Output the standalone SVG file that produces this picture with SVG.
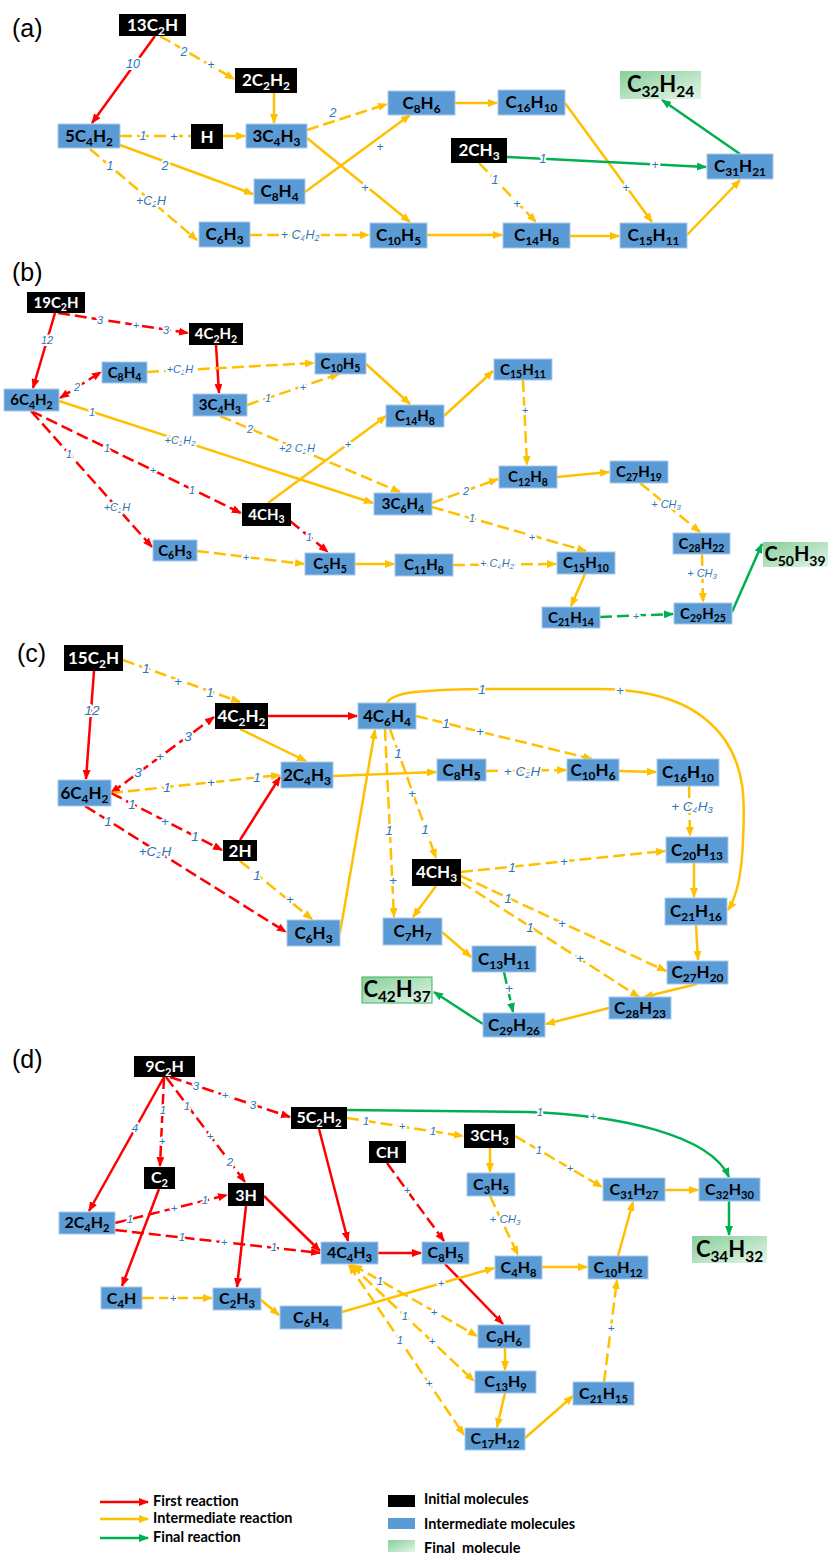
<svg xmlns="http://www.w3.org/2000/svg" width="828" height="1555" viewBox="0 0 828 1555">
<defs>
<linearGradient id="gf" x1="0" y1="0" x2="1" y2="1"><stop offset="0" stop-color="#86cf98"/><stop offset="1" stop-color="#e4f5e8"/></linearGradient>
<marker id="mr" viewBox="0 0 10 8" refX="9" refY="4" markerWidth="10" markerHeight="8" markerUnits="userSpaceOnUse" orient="auto-start-reverse"><path d="M0,0L10,4L0,8z" fill="#ff0000"/></marker>
<marker id="my" viewBox="0 0 10 8" refX="9" refY="4" markerWidth="10" markerHeight="8" markerUnits="userSpaceOnUse" orient="auto-start-reverse"><path d="M0,0L10,4L0,8z" fill="#ffc000"/></marker>
<marker id="mg" viewBox="0 0 10 8" refX="9" refY="4" markerWidth="10" markerHeight="8" markerUnits="userSpaceOnUse" orient="auto-start-reverse"><path d="M0,0L10,4L0,8z" fill="#00b050"/></marker>
<style>
.b{fill:#5b9bd5;stroke:#a9c9ea;stroke-width:1}
.k{fill:#000}
.f{fill:url(#gf)}
.t{font-family:Lato,"Liberation Sans",sans-serif;font-weight:700;fill:#000;text-anchor:middle}
.w{fill:#fff}
.z16{font-size:17px}.z14{font-size:15px}.z15{font-size:16px}.z21{font-size:22px}.z20{font-size:20px}
.s{font-size:70%}
.e{fill:none;stroke-width:2.5}
.r{stroke:#ff0000;marker-end:url(#mr)}
.y{stroke:#ffc000;marker-end:url(#my)}
.g{stroke:#00b050;marker-end:url(#mg)}
.d{stroke-dasharray:12 5}
.l{font-family:"Liberation Sans",sans-serif;font-style:italic;fill:#2e75b6;text-anchor:middle;dominant-baseline:central;stroke:#fff;stroke-width:4;paint-order:stroke;stroke-linejoin:round}
.la{font-size:12.5px}.lb{font-size:11px}.lc{font-size:13.5px}.ld{font-size:11.5px}
.p{font-family:"Liberation Sans",sans-serif;font-size:25px;fill:#000}
.lg{font-family:Lato,"Liberation Sans",sans-serif;font-weight:700;font-size:14.5px;fill:#000}
</style>
</defs>
<rect width="828" height="1555" fill="#fff"/>

<text class="p" x="12" y="37">(a)</text>
<text class="p" x="12" y="281">(b)</text>
<text class="p" x="17" y="662">(c)</text>
<text class="p" x="12" y="1068">(d)</text>

<g id="connectors">
<!-- panel a -->
<path class="e r" d="M155,36L92,123"/>
<path class="e y d" d="M160,36L234,79"/>
<path class="e y" d="M274,93L274,123"/>
<path class="e y d" style="marker-end:none" d="M120,136L191,136"/>
<path class="e y" d="M223,136L245,136"/>
<path class="e y d" d="M307,130L387,104"/>
<path class="e y" d="M305,192L410,115"/>
<path class="e y" d="M307,138L410,222"/>
<path class="e y" d="M120,145L253,194"/>
<path class="e y d" d="M90,149L197,240"/>
<path class="e y d" d="M250,235L369,235"/>
<path class="e y" d="M455,103L497,103"/>
<path class="e y" d="M565,103L652,222"/>
<path class="e g" d="M507,157L706,167"/>
<path class="e y d" d="M479,163L536,222"/>
<path class="e y" d="M427,235L502,235"/>
<path class="e y" d="M570,236L619,236"/>
<path class="e y" d="M687,235L740,180"/>
<path class="e g" d="M740,154L662,100"/>
<!-- panel b -->
<path class="e r" d="M55,313L33,388"/>
<path class="e r d" d="M58,313L188,333"/>
<path class="e r" d="M216,345L219,393"/>
<path class="e r d" marker-start="url(#mr)" d="M60,398L101,372"/>
<path class="e y d" d="M147,372L314,363"/>
<path class="e y d" d="M247,405L339,374"/>
<path class="e y" d="M366,364L410,404"/>
<path class="e y" d="M59,401L373,503"/>
<path class="e y d" d="M220,416L400,492"/>
<path class="e y" d="M268,503L386,416"/>
<path class="e r d" d="M31,411L241,513"/>
<path class="e r d" d="M31,411L152,547"/>
<path class="e r d" d="M290,521L328,552"/>
<path class="e y d" d="M197,551L304,564"/>
<path class="e y" d="M355,564L394,564"/>
<path class="e y d" d="M453,565L556,564"/>
<path class="e y d" d="M432,503L498,479"/>
<path class="e y d" d="M432,507L586,551"/>
<path class="e y" d="M444,416L493,371"/>
<path class="e y d" d="M523,380L527,465"/>
<path class="e y" d="M557,477L609,472"/>
<path class="e y d" d="M640,483L700,532"/>
<path class="e y d" d="M702,554L703,602"/>
<path class="e y" d="M585,574L571,606"/>
<path class="e g d" d="M600,617L673,614"/>
<path class="e g" d="M732,612L762,544"/>
<!-- panel c -->
<path class="e r" d="M94,671L86,779"/>
<path class="e y d" d="M123,660L240,702"/>
<path class="e r d" marker-start="url(#mr)" d="M111,793L214,717"/>
<path class="e r" d="M268,716L357,716"/>
<path class="e y" d="M240,729L306,761"/>
<path class="e y d" d="M111,793L280,775"/>
<path class="e r d" d="M111,793L222,850"/>
<path class="e r d" d="M85,806L286,932"/>
<path class="e r" d="M240,840L280,777"/>
<path class="e y d" d="M240,861L312,919"/>
<path class="e y" d="M340,933L375,730"/>
<path class="e y" d="M333,776L436,772"/>
<path class="e y d" d="M486,771L566,770"/>
<path class="e y" d="M619,771L656,772"/>
<path class="e y d" d="M416,716L592,759"/>
<path class="e y" d="M387,703C392,692 420,690 480,689L600,689C660,690 700,705 725,740C745,770 745,800 743,840C742,870 738,895 728,910"/>
<path class="e y d" d="M385,729L394,917"/>
<path class="e y d" d="M390,729L436,858"/>
<path class="e y" d="M436,886L413,917"/>
<path class="e y d" d="M461,872L665,851"/>
<path class="e y d" d="M461,876L666,971"/>
<path class="e y d" d="M461,882L639,997"/>
<path class="e y d" d="M689,786L690,836"/>
<path class="e y" d="M694,863L694,897"/>
<path class="e y" d="M696,925L698,960"/>
<path class="e y" d="M697,984L644,997"/>
<path class="e y" d="M609,1008L546,1024"/>
<path class="e y" d="M442,932L471,957"/>
<path class="e g d" d="M504,972L513,1012"/>
<path class="e g" d="M483,1024L434,992"/>
<!-- panel d -->
<path class="e r" d="M164,1077L89,1211"/>
<path class="e r d" d="M164,1077L160,1166"/>
<path class="e r d" d="M166,1077L245,1182"/>
<path class="e r d" d="M170,1077L290,1117"/>
<path class="e r" d="M159,1189L122,1286"/>
<path class="e r d" d="M115,1223L227,1195"/>
<path class="e r d" d="M115,1230L320,1253"/>
<path class="e r" d="M264,1196L320,1251"/>
<path class="e r" d="M246,1206L237,1287"/>
<path class="e r" d="M319,1129L348,1241"/>
<path class="e g" d="M347,1110L527,1112C620,1115 710,1135 729,1177"/>
<path class="e y d" d="M347,1118L463,1136"/>
<path class="e r d" d="M387,1163L444,1241"/>
<path class="e y" d="M490,1148L490,1172"/>
<path class="e y d" d="M490,1196L518,1255"/>
<path class="e y d" d="M515,1136L602,1187"/>
<path class="e y" d="M665,1190L698,1190"/>
<path class="e g" d="M729,1201L729,1235"/>
<path class="e r" d="M378,1253L421,1253"/>
<path class="e r" d="M445,1264L503,1324"/>
<path class="e y d" marker-start="url(#my)" d="M353,1265L477,1336"/>
<path class="e y d" marker-start="url(#my)" d="M351,1265L474,1381"/>
<path class="e y d" marker-start="url(#my)" d="M349,1265L464,1435"/>
<path class="e y" d="M342,1312L494,1268"/>
<path class="e y" d="M261,1300L279,1315"/>
<path class="e y d" d="M142,1298L212,1298"/>
<path class="e y" d="M542,1267L587,1267"/>
<path class="e y" d="M618,1256L633,1202"/>
<path class="e y" d="M505,1348L505,1370"/>
<path class="e y" d="M505,1393L497,1427"/>
<path class="e y" d="M525,1438L573,1396"/>
<path class="e y d" d="M604,1382L617,1280"/>
</g>

<g id="edge-labels">
<!-- a -->
<text class="l la" x="133" y="64">10</text>
<text class="l la" x="184" y="52">2</text>
<text class="l la" x="211" y="65">+</text>
<text class="l la" x="143" y="136">1</text>
<text class="l la" x="174" y="137">+</text>
<text class="l la" x="333" y="113">2</text>
<text class="l la" x="380" y="147">+</text>
<text class="l la" x="365" y="188">+</text>
<text class="l la" x="165" y="166">2</text>
<text class="l la" x="110" y="166">1</text>
<text class="l la" x="151" y="201">+C<tspan class="s" dy="3">2</tspan><tspan dy="-3">H</tspan></text>
<text class="l la" x="300" y="235">+ C<tspan class="s" dy="3">4</tspan><tspan dy="-3">H</tspan><tspan class="s" dy="3">2</tspan></text>
<text class="l la" x="626" y="188">+</text>
<text class="l la" x="543" y="159">1</text>
<text class="l la" x="655" y="165">+</text>
<text class="l la" x="495" y="180">1</text>
<text class="l la" x="517" y="204">+</text>
<!-- b -->
<text class="l lb" x="47" y="340">12</text>
<text class="l lb" x="100" y="320">3</text>
<text class="l lb" x="136" y="325">+</text>
<text class="l lb" x="166" y="330">3</text>
<text class="l lb" x="77" y="387">2</text>
<text class="l lb" x="180" y="369">+C<tspan class="s" dy="3">2</tspan><tspan dy="-3">H</tspan></text>
<text class="l lb" x="268" y="398">1</text>
<text class="l lb" x="303" y="387">+</text>
<text class="l lb" x="92" y="412">1</text>
<text class="l lb" x="180" y="440">+C<tspan class="s" dy="3">2</tspan><tspan dy="-3">H</tspan><tspan class="s" dy="3">2</tspan></text>
<text class="l lb" x="250" y="429">2</text>
<text class="l lb" x="297" y="448">+2 C<tspan class="s" dy="3">2</tspan><tspan dy="-3">H</tspan></text>
<text class="l lb" x="348" y="444">+</text>
<text class="l lb" x="107" y="448">1</text>
<text class="l lb" x="153" y="470">+</text>
<text class="l lb" x="192" y="490">1</text>
<text class="l lb" x="69" y="454">1</text>
<text class="l lb" x="117" y="507">+C<tspan class="s" dy="3">2</tspan><tspan dy="-3">H</tspan></text>
<text class="l lb" x="309" y="537">1</text>
<text class="l lb" x="246" y="557">+</text>
<text class="l lb" x="497" y="563">+ C<tspan class="s" dy="3">4</tspan><tspan dy="-3">H</tspan><tspan class="s" dy="3">2</tspan></text>
<text class="l lb" x="466" y="491">2</text>
<text class="l lb" x="472" y="518">1</text>
<text class="l lb" x="532" y="537">+</text>
<text class="l lb" x="525" y="410">+</text>
<text class="l lb" x="666" y="504">+ CH<tspan class="s" dy="3">3</tspan></text>
<text class="l lb" x="702" y="573">+ CH<tspan class="s" dy="3">3</tspan></text>
<text class="l lb" x="636" y="616">+</text>
<!-- c -->
<text class="l lc" x="92" y="710">12</text>
<text class="l lc" x="146" y="668">1</text>
<text class="l lc" x="178" y="681">+</text>
<text class="l lc" x="210" y="692">1</text>
<text class="l lc" x="138" y="772">3</text>
<text class="l lc" x="160" y="756">+</text>
<text class="l lc" x="188" y="736">3</text>
<text class="l lc" x="167" y="787">1</text>
<text class="l lc" x="211" y="782">+</text>
<text class="l lc" x="257" y="777">1</text>
<text class="l lc" x="132" y="804">1</text>
<text class="l lc" x="165" y="821">+</text>
<text class="l lc" x="195" y="836">1</text>
<text class="l lc" x="108" y="821">1</text>
<text class="l lc" x="155" y="851">+C<tspan class="s" dy="3">2</tspan><tspan dy="-3">H</tspan></text>
<text class="l lc" x="257" y="875">1</text>
<text class="l lc" x="290" y="899">+</text>
<text class="l lc" x="522" y="771">+ C<tspan class="s" dy="3">2</tspan><tspan dy="-3">H</tspan></text>
<text class="l lc" x="446" y="723">1</text>
<text class="l lc" x="480" y="731">+</text>
<text class="l lc" x="482" y="689">1</text>
<text class="l lc" x="620" y="690">+</text>
<text class="l lc" x="389" y="830">1</text>
<text class="l lc" x="393" y="880">+</text>
<text class="l lc" x="398" y="753">1</text>
<text class="l lc" x="412" y="793">+</text>
<text class="l lc" x="425" y="829">1</text>
<text class="l lc" x="512" y="867">1</text>
<text class="l lc" x="564" y="861">+</text>
<text class="l lc" x="508" y="898">1</text>
<text class="l lc" x="562" y="923">+</text>
<text class="l lc" x="530" y="927">1</text>
<text class="l lc" x="580" y="958">+</text>
<text class="l lc" x="692" y="806">+ C<tspan class="s" dy="3">4</tspan><tspan dy="-3">H</tspan><tspan class="s" dy="3">3</tspan></text>
<text class="l lc" x="509" y="988">+</text>
<!-- d -->
<text class="l ld" x="135" y="1128">4</text>
<text class="l ld" x="163" y="1110">1</text>
<text class="l ld" x="162" y="1141">+</text>
<text class="l ld" x="187" y="1106">1</text>
<text class="l ld" x="210" y="1136">+</text>
<text class="l ld" x="230" y="1162">2</text>
<text class="l ld" x="196" y="1086">3</text>
<text class="l ld" x="225" y="1095">+</text>
<text class="l ld" x="253" y="1105">3</text>
<text class="l ld" x="130" y="1219">1</text>
<text class="l ld" x="174" y="1208">+</text>
<text class="l ld" x="205" y="1200">1</text>
<text class="l ld" x="182" y="1237">1</text>
<text class="l ld" x="224" y="1242">+</text>
<text class="l ld" x="274" y="1247">1</text>
<text class="l ld" x="540" y="1112">1</text>
<text class="l ld" x="593" y="1116">+</text>
<text class="l ld" x="366" y="1121">1</text>
<text class="l ld" x="402" y="1126">+</text>
<text class="l ld" x="433" y="1131">1</text>
<text class="l ld" x="407" y="1190">+</text>
<text class="l ld" x="505" y="1219">+ CH<tspan class="s" dy="3">3</tspan></text>
<text class="l ld" x="539" y="1150">1</text>
<text class="l ld" x="570" y="1168">+</text>
<text class="l ld" x="380" y="1281">1</text>
<text class="l ld" x="434" y="1312">+</text>
<text class="l ld" x="405" y="1316">1</text>
<text class="l ld" x="432" y="1341">+</text>
<text class="l ld" x="400" y="1340">1</text>
<text class="l ld" x="429" y="1383">+</text>
<text class="l ld" x="441" y="1283">+</text>
<text class="l ld" x="173" y="1298">+</text>
<text class="l ld" x="611" y="1328">+</text>
</g>

<!-- panel a nodes -->
<g id="a-13C2H"><rect class="k" x="119" y="14" width="67" height="22"/><text class="t w z16" x="152.5" y="30.5">13C<tspan class="s" dy="4">2</tspan><tspan dy="-4">H</tspan></text></g>
<g id="a-2C2H2"><rect class="k" x="235" y="68" width="62" height="25"/><text class="t w z16" x="266" y="86">2C<tspan class="s" dy="4">2</tspan><tspan dy="-4">H</tspan><tspan class="s" dy="4">2</tspan></text></g>
<g id="a-5C4H2"><rect class="b" x="58" y="124" width="62" height="24"/><text class="t z16" x="89" y="141.5">5C<tspan class="s" dy="4">4</tspan><tspan dy="-4">H</tspan><tspan class="s" dy="4">2</tspan></text></g>
<g id="a-H"><rect class="k" x="191" y="124" width="32" height="25"/><text class="t w z16" x="207" y="142.5">H</text></g>
<g id="a-3C4H3"><rect class="b" x="246" y="124" width="61" height="24"/><text class="t z16" x="276.5" y="141.5">3C<tspan class="s" dy="4">4</tspan><tspan dy="-4">H</tspan><tspan class="s" dy="4">3</tspan></text></g>
<g id="a-C8H4"><rect class="b" x="254" y="179" width="51" height="25"/><text class="t z16" x="279.5" y="197">C<tspan class="s" dy="4">8</tspan><tspan dy="-4">H</tspan><tspan class="s" dy="4">4</tspan></text></g>
<g id="a-C6H3"><rect class="b" x="199" y="222" width="51" height="25"/><text class="t z16" x="224.5" y="240">C<tspan class="s" dy="4">6</tspan><tspan dy="-4">H</tspan><tspan class="s" dy="4">3</tspan></text></g>
<g id="a-C10H5"><rect class="b" x="370" y="223" width="57" height="25"/><text class="t z16" x="398.5" y="241">C<tspan class="s" dy="4">10</tspan><tspan dy="-4">H</tspan><tspan class="s" dy="4">5</tspan></text></g>
<g id="a-C8H6"><rect class="b" x="388" y="91" width="67" height="24"/><text class="t z16" x="421.5" y="108.5">C<tspan class="s" dy="4">8</tspan><tspan dy="-4">H</tspan><tspan class="s" dy="4">6</tspan></text></g>
<g id="a-C16H10"><rect class="b" x="498" y="90" width="67" height="25"/><text class="t z16" x="531.5" y="108">C<tspan class="s" dy="4">16</tspan><tspan dy="-4">H</tspan><tspan class="s" dy="4">10</tspan></text></g>
<g id="a-C32H24"><rect class="f" x="620" y="71" width="81" height="28"/><text class="t z21" x="660.5" y="91.5">C<tspan class="s" dy="5">32</tspan><tspan dy="-5">H</tspan><tspan class="s" dy="5">24</tspan></text></g>
<g id="a-2CH3"><rect class="k" x="451" y="138" width="56" height="25"/><text class="t w z16" x="479" y="156">2CH<tspan class="s" dy="4">3</tspan></text></g>
<g id="a-C31H21"><rect class="b" x="707" y="154" width="66" height="25"/><text class="t z16" x="740" y="172">C<tspan class="s" dy="4">31</tspan><tspan dy="-4">H</tspan><tspan class="s" dy="4">21</tspan></text></g>
<g id="a-C14H8"><rect class="b" x="503" y="223" width="67" height="25"/><text class="t z16" x="536.5" y="241">C<tspan class="s" dy="4">14</tspan><tspan dy="-4">H</tspan><tspan class="s" dy="4">8</tspan></text></g>
<g id="a-C15H11"><rect class="b" x="620" y="223" width="67" height="25"/><text class="t z16" x="653.5" y="241">C<tspan class="s" dy="4">15</tspan><tspan dy="-4">H</tspan><tspan class="s" dy="4">11</tspan></text></g>

<!-- panel b nodes -->
<g id="b-19C2H"><rect class="k" x="27" y="292" width="58" height="21"/><text class="t w z14" x="56" y="307.5">19C<tspan class="s" dy="3.5">2</tspan><tspan dy="-3.5">H</tspan></text></g>
<g id="b-4C2H2"><rect class="k" x="189" y="323" width="54" height="22"/><text class="t w z14" x="216" y="339">4C<tspan class="s" dy="3.5">2</tspan><tspan dy="-3.5">H</tspan><tspan class="s" dy="3.5">2</tspan></text></g>
<g id="b-C8H4"><rect class="b" x="102" y="362" width="45" height="21"/><text class="t z14" x="124.5" y="377.5">C<tspan class="s" dy="3.5">8</tspan><tspan dy="-3.5">H</tspan><tspan class="s" dy="3.5">4</tspan></text></g>
<g id="b-C10H5"><rect class="b" x="315" y="353" width="51" height="21"/><text class="t z14" x="340.5" y="368.5">C<tspan class="s" dy="3.5">10</tspan><tspan dy="-3.5">H</tspan><tspan class="s" dy="3.5">5</tspan></text></g>
<g id="b-6C4H2"><rect class="b" x="4" y="389" width="55" height="22"/><text class="t z14" x="31.5" y="405">6C<tspan class="s" dy="3.5">4</tspan><tspan dy="-3.5">H</tspan><tspan class="s" dy="3.5">2</tspan></text></g>
<g id="b-3C4H3"><rect class="b" x="193" y="394" width="54" height="22"/><text class="t z14" x="220" y="410">3C<tspan class="s" dy="3.5">4</tspan><tspan dy="-3.5">H</tspan><tspan class="s" dy="3.5">3</tspan></text></g>
<g id="b-C14H8"><rect class="b" x="386" y="405" width="58" height="22"/><text class="t z14" x="415" y="421">C<tspan class="s" dy="3.5">14</tspan><tspan dy="-3.5">H</tspan><tspan class="s" dy="3.5">8</tspan></text></g>
<g id="b-3C6H4"><rect class="b" x="374" y="493" width="58" height="22"/><text class="t z14" x="403" y="509">3C<tspan class="s" dy="3.5">6</tspan><tspan dy="-3.5">H</tspan><tspan class="s" dy="3.5">4</tspan></text></g>
<g id="b-4CH3"><rect class="k" x="242" y="503" width="49" height="23"/><text class="t w z14" x="266.5" y="519.5">4CH<tspan class="s" dy="3.5">3</tspan></text></g>
<g id="b-C6H3"><rect class="b" x="153" y="540" width="44" height="21"/><text class="t z14" x="175" y="555.5">C<tspan class="s" dy="3.5">6</tspan><tspan dy="-3.5">H</tspan><tspan class="s" dy="3.5">3</tspan></text></g>
<g id="b-C5H5"><rect class="b" x="305" y="553" width="50" height="22"/><text class="t z14" x="330" y="569">C<tspan class="s" dy="3.5">5</tspan><tspan dy="-3.5">H</tspan><tspan class="s" dy="3.5">5</tspan></text></g>
<g id="b-C11H8"><rect class="b" x="395" y="554" width="58" height="22"/><text class="t z14" x="424" y="570">C<tspan class="s" dy="3.5">11</tspan><tspan dy="-3.5">H</tspan><tspan class="s" dy="3.5">8</tspan></text></g>
<g id="b-C15H11"><rect class="b" x="494" y="359" width="58" height="21"/><text class="t z14" x="523" y="374.5">C<tspan class="s" dy="3.5">15</tspan><tspan dy="-3.5">H</tspan><tspan class="s" dy="3.5">11</tspan></text></g>
<g id="b-C12H8"><rect class="b" x="499" y="466" width="58" height="22"/><text class="t z14" x="528" y="482">C<tspan class="s" dy="3.5">12</tspan><tspan dy="-3.5">H</tspan><tspan class="s" dy="3.5">8</tspan></text></g>
<g id="b-C27H19"><rect class="b" x="610" y="461" width="58" height="22"/><text class="t z14" x="639" y="477">C<tspan class="s" dy="3.5">27</tspan><tspan dy="-3.5">H</tspan><tspan class="s" dy="3.5">19</tspan></text></g>
<g id="b-C28H22"><rect class="b" x="673" y="533" width="57" height="21"/><text class="t z14" x="701.5" y="548.5">C<tspan class="s" dy="3.5">28</tspan><tspan dy="-3.5">H</tspan><tspan class="s" dy="3.5">22</tspan></text></g>
<g id="b-C15H10"><rect class="b" x="557" y="552" width="58" height="22"/><text class="t z14" x="586" y="568">C<tspan class="s" dy="3.5">15</tspan><tspan dy="-3.5">H</tspan><tspan class="s" dy="3.5">10</tspan></text></g>
<g id="b-C50H39"><rect class="f" x="763" y="542" width="65" height="25"/><text class="t z20" x="795" y="561">C<tspan class="s" dy="5">50</tspan><tspan dy="-5">H</tspan><tspan class="s" dy="5">39</tspan></text></g>
<g id="b-C21H14"><rect class="b" x="542" y="607" width="58" height="21"/><text class="t z14" x="571" y="622.5">C<tspan class="s" dy="3.5">21</tspan><tspan dy="-3.5">H</tspan><tspan class="s" dy="3.5">14</tspan></text></g>
<g id="b-C29H25"><rect class="b" x="674" y="603" width="58" height="21"/><text class="t z14" x="703" y="618.5">C<tspan class="s" dy="3.5">29</tspan><tspan dy="-3.5">H</tspan><tspan class="s" dy="3.5">25</tspan></text></g>

<!-- panel c nodes -->
<g id="c-15C2H"><rect class="k" x="64" y="645" width="59" height="26"/><text class="t w z16" x="93.5" y="663.5">15C<tspan class="s" dy="4">2</tspan><tspan dy="-4">H</tspan></text></g>
<g id="c-4C2H2"><rect class="k" x="215" y="703" width="53" height="26"/><text class="t w z16" x="241.5" y="721.5">4C<tspan class="s" dy="4">2</tspan><tspan dy="-4">H</tspan><tspan class="s" dy="4">2</tspan></text></g>
<g id="c-4C6H4"><rect class="b" x="358" y="703" width="58" height="26"/><text class="t z16" x="387" y="721.5">4C<tspan class="s" dy="4">6</tspan><tspan dy="-4">H</tspan><tspan class="s" dy="4">4</tspan></text></g>
<g id="c-2C4H3"><rect class="b" x="281" y="762" width="52" height="26"/><text class="t z16" x="307" y="780.5">2C<tspan class="s" dy="4">4</tspan><tspan dy="-4">H</tspan><tspan class="s" dy="4">3</tspan></text></g>
<g id="c-6C4H2"><rect class="b" x="58" y="780" width="53" height="26"/><text class="t z16" x="84.5" y="798.5">6C<tspan class="s" dy="4">4</tspan><tspan dy="-4">H</tspan><tspan class="s" dy="4">2</tspan></text></g>
<g id="c-2H"><rect class="k" x="223" y="840" width="34" height="21"/><text class="t w z16" x="240" y="856.5">2H</text></g>
<g id="c-C6H3"><rect class="b" x="287" y="920" width="53" height="26"/><text class="t z16" x="313.5" y="938.5">C<tspan class="s" dy="4">6</tspan><tspan dy="-4">H</tspan><tspan class="s" dy="4">3</tspan></text></g>
<g id="c-C7H7"><rect class="b" x="383" y="918" width="59" height="27"/><text class="t z16" x="412.5" y="937">C<tspan class="s" dy="4">7</tspan><tspan dy="-4">H</tspan><tspan class="s" dy="4">7</tspan></text></g>
<g id="c-C8H5"><rect class="b" x="437" y="759" width="49" height="22"/><text class="t z16" x="461.5" y="775.5">C<tspan class="s" dy="4">8</tspan><tspan dy="-4">H</tspan><tspan class="s" dy="4">5</tspan></text></g>
<g id="c-C10H6"><rect class="b" x="567" y="759" width="52" height="22"/><text class="t z16" x="593" y="775.5">C<tspan class="s" dy="4">10</tspan><tspan dy="-4">H</tspan><tspan class="s" dy="4">6</tspan></text></g>
<g id="c-C16H10"><rect class="b" x="657" y="759" width="62" height="27"/><text class="t z16" x="688" y="778">C<tspan class="s" dy="4">16</tspan><tspan dy="-4">H</tspan><tspan class="s" dy="4">10</tspan></text></g>
<g id="c-C20H13"><rect class="b" x="666" y="837" width="62" height="26"/><text class="t z16" x="697" y="855.5">C<tspan class="s" dy="4">20</tspan><tspan dy="-4">H</tspan><tspan class="s" dy="4">13</tspan></text></g>
<g id="c-4CH3"><rect class="k" x="412" y="859" width="49" height="27"/><text class="t w z16" x="436.5" y="878">4CH<tspan class="s" dy="4">3</tspan></text></g>
<g id="c-C21H16"><rect class="b" x="665" y="898" width="62" height="27"/><text class="t z16" x="696" y="917">C<tspan class="s" dy="4">21</tspan><tspan dy="-4">H</tspan><tspan class="s" dy="4">16</tspan></text></g>
<g id="c-C13H11"><rect class="b" x="472" y="946" width="64" height="26"/><text class="t z16" x="504" y="964.5">C<tspan class="s" dy="4">13</tspan><tspan dy="-4">H</tspan><tspan class="s" dy="4">11</tspan></text></g>
<g id="c-C27H20"><rect class="b" x="667" y="961" width="61" height="23"/><text class="t z16" x="697.5" y="978">C<tspan class="s" dy="4">27</tspan><tspan dy="-4">H</tspan><tspan class="s" dy="4">20</tspan></text></g>
<g id="c-C42H37"><rect class="f" x="362" y="977" width="70" height="26" stroke="#3cb45a" stroke-width="1"/><text class="t z21" x="397" y="996.5">C<tspan class="s" dy="5">42</tspan><tspan dy="-5">H</tspan><tspan class="s" dy="5">37</tspan></text></g>
<g id="c-C28H23"><rect class="b" x="609" y="997" width="62" height="22"/><text class="t z16" x="640" y="1013.5">C<tspan class="s" dy="4">28</tspan><tspan dy="-4">H</tspan><tspan class="s" dy="4">23</tspan></text></g>
<g id="c-C29H26"><rect class="b" x="483" y="1013" width="62" height="24"/><text class="t z16" x="514" y="1030.5">C<tspan class="s" dy="4">29</tspan><tspan dy="-4">H</tspan><tspan class="s" dy="4">26</tspan></text></g>

<!-- panel d nodes -->
<g id="d-9C2H"><rect class="k" x="134" y="1056" width="61" height="21"/><text class="t w z15" x="164.5" y="1071.5">9C<tspan class="s" dy="4">2</tspan><tspan dy="-4">H</tspan></text></g>
<g id="d-5C2H2"><rect class="k" x="291" y="1107" width="56" height="22"/><text class="t w z15" x="319" y="1123">5C<tspan class="s" dy="4">2</tspan><tspan dy="-4">H</tspan><tspan class="s" dy="4">2</tspan></text></g>
<g id="d-CH"><rect class="k" x="369" y="1141" width="37" height="22"/><text class="t w z15" x="387.5" y="1158">CH</text></g>
<g id="d-C2"><rect class="k" x="144" y="1167" width="31" height="22"/><text class="t w z15" x="159.5" y="1183">C<tspan class="s" dy="4">2</tspan></text></g>
<g id="d-3H"><rect class="k" x="228" y="1183" width="36" height="23"/><text class="t w z15" x="246" y="1200.5">3H</text></g>
<g id="d-2C4H2"><rect class="b" x="59" y="1212" width="56" height="22"/><text class="t z15" x="87" y="1228">2C<tspan class="s" dy="4">4</tspan><tspan dy="-4">H</tspan><tspan class="s" dy="4">2</tspan></text></g>
<g id="d-4C4H3"><rect class="b" x="321" y="1242" width="57" height="22"/><text class="t z15" x="349.5" y="1258">4C<tspan class="s" dy="4">4</tspan><tspan dy="-4">H</tspan><tspan class="s" dy="4">3</tspan></text></g>
<g id="d-C4H"><rect class="b" x="101" y="1287" width="41" height="22"/><text class="t z15" x="121.5" y="1303.5">C<tspan class="s" dy="4">4</tspan><tspan dy="-4">H</tspan></text></g>
<g id="d-C2H3"><rect class="b" x="213" y="1288" width="48" height="22"/><text class="t z15" x="237" y="1304">C<tspan class="s" dy="4">2</tspan><tspan dy="-4">H</tspan><tspan class="s" dy="4">3</tspan></text></g>
<g id="d-C6H4"><rect class="b" x="280" y="1306" width="62" height="23"/><text class="t z15" x="311" y="1322.5">C<tspan class="s" dy="4">6</tspan><tspan dy="-4">H</tspan><tspan class="s" dy="4">4</tspan></text></g>
<g id="d-3CH3"><rect class="k" x="464" y="1124" width="51" height="24"/><text class="t w z15" x="489.5" y="1141">3CH<tspan class="s" dy="4">3</tspan></text></g>
<g id="d-C3H5"><rect class="b" x="467" y="1173" width="48" height="23"/><text class="t z15" x="491" y="1189.5">C<tspan class="s" dy="4">3</tspan><tspan dy="-4">H</tspan><tspan class="s" dy="4">5</tspan></text></g>
<g id="d-C31H27"><rect class="b" x="603" y="1178" width="62" height="23"/><text class="t z15" x="634" y="1194.5">C<tspan class="s" dy="4">31</tspan><tspan dy="-4">H</tspan><tspan class="s" dy="4">27</tspan></text></g>
<g id="d-C32H30"><rect class="b" x="699" y="1178" width="61" height="23"/><text class="t z15" x="729.5" y="1194.5">C<tspan class="s" dy="4">32</tspan><tspan dy="-4">H</tspan><tspan class="s" dy="4">30</tspan></text></g>
<g id="d-C34H32"><rect class="f" x="692" y="1236" width="75" height="27"/><text class="t z21" x="729.5" y="1256.5">C<tspan class="s" dy="5">34</tspan><tspan dy="-5">H</tspan><tspan class="s" dy="5">32</tspan></text></g>
<g id="d-C8H5"><rect class="b" x="422" y="1242" width="47" height="22"/><text class="t z15" x="445.5" y="1258">C<tspan class="s" dy="4">8</tspan><tspan dy="-4">H</tspan><tspan class="s" dy="4">5</tspan></text></g>
<g id="d-C4H8"><rect class="b" x="495" y="1256" width="47" height="23"/><text class="t z15" x="518.5" y="1272.5">C<tspan class="s" dy="4">4</tspan><tspan dy="-4">H</tspan><tspan class="s" dy="4">8</tspan></text></g>
<g id="d-C10H12"><rect class="b" x="588" y="1256" width="60" height="23"/><text class="t z15" x="618" y="1272.5">C<tspan class="s" dy="4">10</tspan><tspan dy="-4">H</tspan><tspan class="s" dy="4">12</tspan></text></g>
<g id="d-C9H6"><rect class="b" x="478" y="1325" width="52" height="23"/><text class="t z15" x="504" y="1341.5">C<tspan class="s" dy="4">9</tspan><tspan dy="-4">H</tspan><tspan class="s" dy="4">6</tspan></text></g>
<g id="d-C13H9"><rect class="b" x="475" y="1371" width="61" height="22"/><text class="t z15" x="505.5" y="1387">C<tspan class="s" dy="4">13</tspan><tspan dy="-4">H</tspan><tspan class="s" dy="4">9</tspan></text></g>
<g id="d-C21H15"><rect class="b" x="573" y="1382" width="61" height="23"/><text class="t z15" x="603.5" y="1398.5">C<tspan class="s" dy="4">21</tspan><tspan dy="-4">H</tspan><tspan class="s" dy="4">15</tspan></text></g>
<g id="d-C17H12"><rect class="b" x="465" y="1428" width="60" height="22"/><text class="t z15" x="495" y="1444">C<tspan class="s" dy="4">17</tspan><tspan dy="-4">H</tspan><tspan class="s" dy="4">12</tspan></text></g>

<g id="legend">
<path class="e r" d="M100,1502L148,1502"/>
<path class="e y" d="M100,1519L148,1519"/>
<path class="e g" d="M100,1538L148,1538"/>
<text class="lg" x="153" y="1506">First reaction</text>
<text class="lg" x="153" y="1523">Intermediate reaction</text>
<text class="lg" x="153" y="1542">Final reaction</text>
<rect class="k" x="388" y="1495" width="27" height="12"/>
<rect fill="#5b9bd5" x="388" y="1518" width="27" height="11"/>
<rect class="f" x="388" y="1540" width="27" height="12"/>
<text class="lg" x="424" y="1504">Initial molecules</text>
<text class="lg" x="424" y="1529">Intermediate molecules</text>
<text class="lg" x="424" y="1553" xml:space="preserve">Final  molecule</text>
</g>
</svg>
